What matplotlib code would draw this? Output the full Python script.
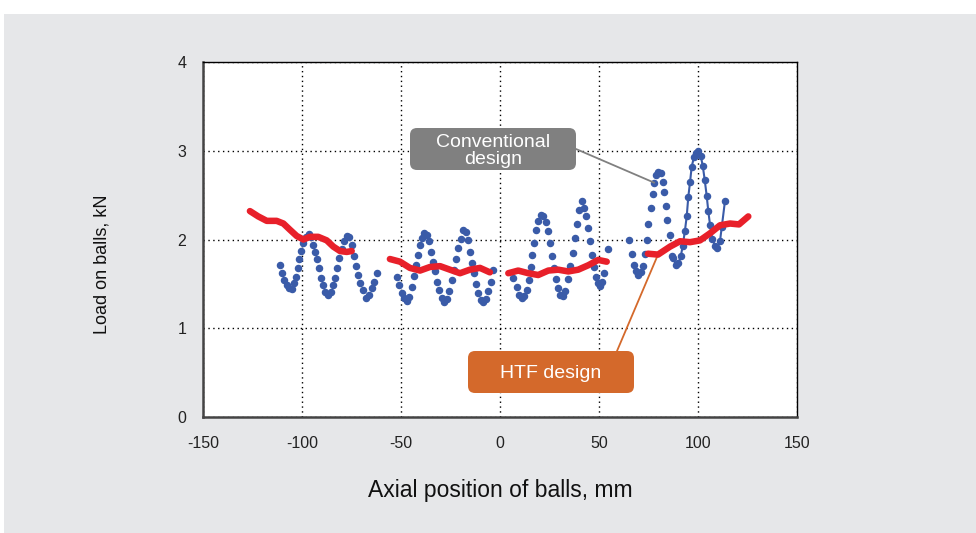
import matplotlib
matplotlib.use('Agg')
import matplotlib.pyplot as plt
from matplotlib.patches import FancyBboxPatch, Rectangle

plt.rcParams['font.family'] = ['Liberation Sans', 'DejaVu Sans']
plt.rcParams['axes.unicode_minus'] = False

# conventional design, ball loads (kN) vs axial position (mm), four nuts
g1_x = [-111.1, -110.3, -109.1, -107.7, -106.4, -105.2, -104.0, -103.0, -102.0, -101.4,
        -100.7, -99.6, -98.0, -96.6, -95.6, -94.3, -93.4, -92.6, -91.6, -90.6,
        -89.5, -88.4, -86.7, -85.5, -84.5, -83.3, -82.5, -81.2, -79.9, -78.8,
        -77.4, -76.4, -74.9, -73.7, -72.7, -71.7, -70.7, -69.3, -67.7, -66.3,
        -64.8, -63.6, -62.3]
g1_y = [1.71, 1.62, 1.54, 1.49, 1.45, 1.44, 1.51, 1.58, 1.68, 1.78,
        1.87, 1.96, 2.03, 2.06, 2.03, 1.94, 1.86, 1.78, 1.68, 1.57,
        1.49, 1.41, 1.37, 1.41, 1.49, 1.57, 1.68, 1.79, 1.89, 1.98,
        2.04, 2.03, 1.94, 1.81, 1.70, 1.60, 1.51, 1.43, 1.34, 1.37,
        1.45, 1.52, 1.62]

g2_x = [-52.2, -50.9, -49.6, -48.5, -47.1, -45.8, -44.6, -43.4, -42.4, -41.6,
        -40.4, -39.4, -38.2, -37.0, -35.7, -34.7, -33.7, -32.7, -31.7, -30.7,
        -29.4, -28.3, -26.9, -25.6, -24.4, -23.2, -22.2, -21.1, -19.8, -18.5,
        -17.2, -16.0, -15.2, -14.0, -13.0, -12.1, -11.0, -9.7, -8.4, -7.1,
        -5.9, -4.7, -3.7]
g2_y = [1.58, 1.49, 1.40, 1.34, 1.31, 1.35, 1.46, 1.59, 1.71, 1.83,
        1.94, 2.02, 2.07, 2.05, 1.98, 1.86, 1.75, 1.64, 1.52, 1.43,
        1.34, 1.30, 1.33, 1.42, 1.54, 1.66, 1.78, 1.90, 2.01, 2.11,
        2.09, 1.99, 1.86, 1.74, 1.62, 1.50, 1.40, 1.32, 1.30, 1.33,
        1.42, 1.52, 1.66]

g3_x = [6.7, 8.4, 9.6, 11.0, 12.3, 13.6, 14.6, 15.7, 16.3, 17.3,
        18.2, 19.3, 20.7, 21.9, 23.2, 24.0, 25.0, 26.1, 27.2, 28.3,
        29.4, 30.5, 31.6, 32.8, 34.1, 35.4, 36.7, 37.9, 38.7, 39.9,
        41.3, 42.4, 43.4, 44.3, 45.5, 46.3, 47.6, 48.3, 49.3, 50.5,
        51.7, 52.7, 54.4]
g3_y = [1.57, 1.46, 1.38, 1.34, 1.36, 1.43, 1.54, 1.69, 1.82, 1.96,
        2.11, 2.21, 2.28, 2.27, 2.20, 2.10, 1.96, 1.81, 1.68, 1.56,
        1.45, 1.38, 1.36, 1.42, 1.55, 1.70, 1.85, 2.02, 2.18, 2.33,
        2.43, 2.36, 2.26, 2.13, 1.98, 1.82, 1.69, 1.58, 1.51, 1.48,
        1.52, 1.62, 1.89]

g4_x = [65.3, 66.5, 67.7, 68.7, 69.8, 71.1, 72.1, 73.2, 74.1, 74.9,
        76.1, 77.1, 77.9, 78.8, 80.0, 81.2, 82.2, 82.8, 83.8, 84.5,
        85.9, 86.8]
g4_y = [2.00, 1.84, 1.71, 1.64, 1.60, 1.63, 1.70, 1.84, 2.00, 2.17,
        2.35, 2.51, 2.64, 2.73, 2.76, 2.75, 2.65, 2.54, 2.38, 2.22,
        2.05, 1.81]

# last section drawn with a connecting line
g5_x = [87.5, 88.9, 90.1, 91.3, 92.3, 93.4, 94.3, 95.1, 96.0, 96.8,
        98.0, 99.0, 100.2, 101.4, 102.4, 103.4, 104.4, 105.2, 106.1, 107.2,
        108.6, 109.7, 111.1, 112.0, 113.6]
g5_y = [1.79, 1.71, 1.73, 1.81, 1.93, 2.10, 2.26, 2.48, 2.65, 2.82,
        2.93, 2.98, 3.00, 2.94, 2.83, 2.67, 2.49, 2.32, 2.16, 2.01,
        1.93, 1.90, 1.98, 2.14, 2.43]

# HTF design, one smooth curve per nut
h1_x = [-126.3, -122.1, -117.8, -112.8, -109.4, -106.1, -102.7, -99.3, -96.0, -91.8,
        -87.5, -84.2, -80.8, -77.4, -74.9]
h1_y = [2.32, 2.26, 2.21, 2.21, 2.18, 2.11, 2.04, 2.00, 2.03, 2.03,
        1.99, 1.92, 1.87, 1.86, 1.87]
h2_x = [-55.6, -50.5, -45.5, -40.4, -35.4, -30.3, -25.3, -20.2, -15.2, -10.1, -5.1]
h2_y = [1.78, 1.75, 1.68, 1.65, 1.69, 1.70, 1.66, 1.62, 1.66, 1.68, 1.63]
h3_x = [4.2, 9.2, 14.3, 19.3, 24.4, 29.4, 34.5, 39.5, 44.6, 49.6, 53.9]
h3_y = [1.62, 1.65, 1.62, 1.60, 1.65, 1.66, 1.64, 1.66, 1.71, 1.77, 1.75]
h4_x = [74.7, 79.8, 85.9, 90.9, 96.0, 101.0, 106.1, 111.1, 116.2, 120.7, 125.4]
h4_y = [1.84, 1.83, 1.92, 1.98, 1.97, 1.99, 2.07, 2.16, 2.18, 2.17, 2.26]

blue = '#3a5ba8'
red = '#e8202a'

fig = plt.figure(figsize=(9.76, 5.33), dpi=100)
fig.patch.set_facecolor('white')
fig.patches.append(Rectangle((4 / 976, 0), 1, (533 - 14) / 533, transform=fig.transFigure,
                             facecolor='#e6e7e9', edgecolor='none', zorder=-10))

ax = fig.add_axes([203 / 976, (533 - 417) / 533, 594 / 976, 355 / 533])
ax.set_facecolor('white')

for xs, ys in [(g1_x, g1_y), (g2_x, g2_y), (g3_x, g3_y), (g4_x, g4_y)]:
    ax.plot(xs, ys, linestyle='none', marker='o', markersize=4.4, color=blue, zorder=3)
ax.plot(g5_x, g5_y, linestyle='-', linewidth=1.5, marker='o', markersize=4.4, color=blue, zorder=3)

for xs, ys in [(h1_x, h1_y), (h2_x, h2_y), (h3_x, h3_y), (h4_x, h4_y)]:
    ax.plot(xs, ys, color=red, linewidth=4.7, solid_capstyle='round', zorder=4)

ax.set_xlim(-150, 150)
ax.set_ylim(0, 4)
ax.set_xticks(range(-150, 151, 50))
ax.set_yticks(range(0, 5))
ax.grid(True, color='black', linestyle=(0, (1, 2.5)), linewidth=1.0)
ax.set_axisbelow(True)
ax.tick_params(length=0, labelsize=11.5, colors='#222222', pad=14)
ax.tick_params(axis='y', pad=12)
for s in ['top', 'right']:
    ax.spines[s].set_linewidth(1.0)
    ax.spines[s].set_color('black')
for s in ['left', 'bottom']:
    ax.spines[s].set_linewidth(1.8)
    ax.spines[s].set_color('#444444')

ax.set_xlabel('Axial position of balls, mm', fontsize=16.5, color='#111111', labelpad=20)
ax.set_ylabel('Load on balls, kN', fontsize=13, color='#111111')
ax.yaxis.set_label_coords(-0.155, 0.43)

# annotation boxes (figure inches)
fig.patches.append(FancyBboxPatch((4.10, 3.63), 1.66, 0.42, boxstyle='round,pad=0,rounding_size=0.07',
                                  transform=fig.dpi_scale_trans, facecolor='#808080',
                                  edgecolor='none', zorder=5))
fig.text(4.93 / 9.76, 3.82 / 5.33, 'Conventional\ndesign', ha='center', va='center',
         color='white', fontsize=14, linespacing=1.0, zorder=6)
fig.patches.append(FancyBboxPatch((4.68, 1.40), 1.66, 0.42, boxstyle='round,pad=0,rounding_size=0.07',
                                  transform=fig.dpi_scale_trans, facecolor='#d4692b',
                                  edgecolor='none', zorder=5))
fig.text(5.51 / 9.76, 1.60 / 5.33, 'HTF design', ha='center', va='center',
         color='white', fontsize=14, zorder=6)

ax.annotate('', xy=(g4_x[12], g4_y[12]), xycoords='data', xytext=(576, 533 - 149),
            textcoords='figure pixels',
            arrowprops=dict(arrowstyle='-', color='#808080', lw=1.3, shrinkA=0, shrinkB=0))
ax.annotate('', xy=(h4_x[1], h4_y[1]), xycoords='data', xytext=(617, 533 - 351),
            textcoords='figure pixels',
            arrowprops=dict(arrowstyle='-', color='#d4692b', lw=1.3, shrinkA=0, shrinkB=0))

fig.savefig('out.png', dpi=100)
